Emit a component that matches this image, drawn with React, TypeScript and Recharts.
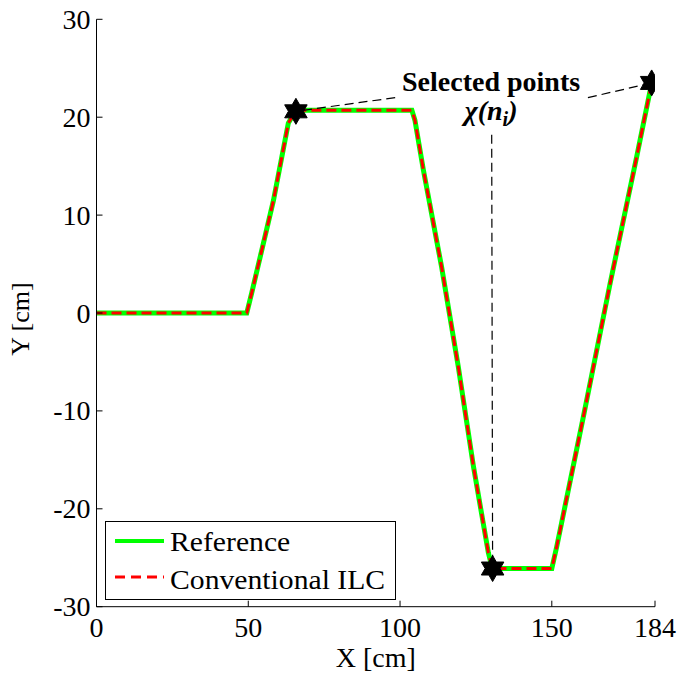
import React from 'react';
import {
  ComposedChart,
  Line,
  Scatter,
  XAxis,
  YAxis,
  ReferenceLine,
  ReferenceDot,
  Legend,
} from 'recharts';

const FONT = '"Liberation Serif", "Times New Roman", serif';

// tick labels
const xTicks = [0, 50, 100, 150, 184];
const yTicks = [-30, -20, -10, 0, 10, 20, 30];

// reference trajectory
const refX = [0, 49.5, 51.1, 55.5, 58.3, 63.2, 65.7, 103.9, 104.9, 107.7, 113.7, 119.2, 124.2, 129.1, 130.4, 150.0, 151.6, 160.4, 169.2, 178.0, 182.9];
const refY = [0, 0, 2.0, 7.8, 11.5, 19.4, 20.7, 20.7, 19.7, 14.6, 4.7, -5.5, -15.7, -24.5, -26.1, -26.1, -23.9, -10.6, 3.0, 16.0, 23.5];

// conventional ILC output (sits on top of the reference)
const ilcX = [0, 49.5, 51.1, 55.5, 58.3, 63.2, 65.7, 103.9, 104.9, 107.7, 113.7, 119.2, 124.2, 129.1, 130.4, 150.0, 151.6, 160.4, 169.2, 178.0, 182.9];
const ilcY = [0, 0, 2.0, 7.8, 11.5, 19.4, 20.7, 20.7, 19.7, 14.6, 4.7, -5.5, -15.7, -24.5, -26.1, -26.1, -23.9, -10.6, 3.0, 16.0, 23.5];

// selected points chi(n_i)
const selX = [65.7, 130.5, 182.9];
const selY = [20.6, -26.1, 23.5];

// where each leader line leaves the annotation text
const leadX = [98.4, 130.2, 161.9];
const leadY = [22.0, 18.2, 22.0];

// annotation anchor (text centre / baseline)
const noteX = 130;
const noteY = 22.7;

const refData = refX.map((x, i) => ({ x, y: refY[i] }));
const ilcData = ilcX.map((x, i) => ({ x, y: ilcY[i] }));
const selData = selX.map((x, i) => ({ x, y: selY[i] }));

const BottomTick = ({ x, y, payload }: any) => (
  <g>
    <line x1={x} x2={x} y1={y} y2={y - 6} stroke="#000" />
    <text x={x} y={y + 30} textAnchor="middle" fontFamily={FONT} fontSize={28} fill="#000">
      {payload.value}
    </text>
  </g>
);

const LeftTick = ({ x, y, payload }: any) => (
  <g>
    <line x1={x} x2={x + 6} y1={y} y2={y} stroke="#000" />
    <text x={x - 6} y={y + 9.5} textAnchor="end" fontFamily={FONT} fontSize={28} fill="#000">
      {payload.value}
    </text>
  </g>
);

const TopTick = ({ x, y }: any) => <line x1={x} x2={x} y1={y} y2={y + 6} stroke="#000" />;
const RightTick = ({ x, y }: any) => <line x1={x} x2={x - 6} y1={y} y2={y} stroke="#000" />;

const Hexagram = ({ cx, cy }: any) => {
  const R = 13;
  const r = R / Math.sqrt(3);
  const pts = [];
  for (let k = 0; k < 12; k++) {
    const a = -Math.PI / 2 + (k * Math.PI) / 6;
    const rad = k % 2 === 0 ? R : r;
    pts.push(`${cx + rad * Math.cos(a)},${cy + rad * Math.sin(a)}`);
  }
  return <polygon points={pts.join(' ')} fill="#000" stroke="#000" />;
};

const NoteLabel = ({ viewBox }: any) => {
  const { x, y } = viewBox;
  return (
    <g fontFamily={FONT} fontWeight="bold" fontSize={28} fill="#000" textAnchor="middle">
      <text x={x} y={y}>Selected points</text>
      <text x={x} y={y + 29} fontStyle="italic">
        χ(n<tspan dy={6} fontSize={20}>i</tspan>
        <tspan dy={-6}>)</tspan>
      </text>
    </g>
  );
};

const legendOrder = ['Reference', 'Conventional ILC'];
const legendLook: Record<string, { color: string; width: number; dash?: string }> = {
  Reference: { color: '#00ff00', width: 4 },
  'Conventional ILC': { color: '#ff0000', width: 3, dash: '10 6' },
};

const LegendBox = ({ payload }: any) => {
  const items = (payload || [])
    .filter((e: any) => legendLook[e.value])
    .sort((a: any, b: any) => legendOrder.indexOf(a.value) - legendOrder.indexOf(b.value));
  return (
    <svg width={291} height={79} style={{ display: 'block' }}>
      <rect x={0.5} y={0.5} width={290} height={78} fill="#fff" stroke="#000" />
      {items.map((e: any, i: number) => {
        const look = legendLook[e.value];
        const ty = 29.5 + i * 38;
        return (
          <g key={e.value}>
            <line
              x1={10}
              x2={59}
              y1={20 + i * 36}
              y2={20 + i * 36}
              stroke={look.color}
              strokeWidth={look.width}
              strokeDasharray={look.dash}
            />
            <text
              x={0}
              y={0}
              transform={`translate(65 ${ty}) scale(1.06 1)`}
              fontFamily={FONT}
              fontSize={28}
              fill="#000"
            >
              {e.value}
            </text>
          </g>
        );
      })}
    </svg>
  );
};

export default function App() {
  return (
    <div style={{ position: 'absolute', left: 0, top: 0, width: 679, height: 679, background: '#fff' }}>
      <ComposedChart width={679} height={679} margin={{ top: 19.3, right: 24, bottom: 32.3, left: 36.5 }}>
        <XAxis
          xAxisId={0}
          dataKey="x"
          type="number"
          domain={[0, 184]}
          ticks={xTicks}
          allowDataOverflow
          height={40}
          tickSize={0}
          tickMargin={0}
          tickLine={false}
          tick={<BottomTick />}
          interval={0}
          stroke="#000"
          label={({ viewBox }: any) => (
            <text
              x={viewBox.x + viewBox.width / 2}
              y={viewBox.y + 60}
              textAnchor="middle"
              fontFamily={FONT}
              fontSize={28}
              fill="#000"
            >
              X [cm]
            </text>
          )}
        />
        <XAxis
          xAxisId="top"
          orientation="top"
          type="number"
          domain={[0, 184]}
          ticks={xTicks}
          allowDataOverflow
          height={0}
          tickSize={0}
          tickMargin={0}
          tickLine={false}
          tick={<TopTick />}
          interval={0}
          stroke="#000"
        />
        <YAxis
          yAxisId={0}
          dataKey="y"
          type="number"
          domain={[-30, 30]}
          ticks={yTicks}
          allowDataOverflow
          width={60}
          tickSize={0}
          tickMargin={0}
          tickLine={false}
          tick={<LeftTick />}
          interval={0}
          stroke="#000"
          label={({ viewBox }: any) => {
            const cx = viewBox.x - 7.5;
            const cy = viewBox.y + viewBox.height / 2 + 6;
            return (
              <text
                x={cx}
                y={cy}
                transform={`rotate(-90 ${cx} ${cy})`}
                textAnchor="middle"
                fontFamily={FONT}
                fontSize={26}
                fill="#000"
              >
                Y [cm]
              </text>
            );
          }}
        />
        <YAxis
          yAxisId="right"
          orientation="right"
          type="number"
          domain={[-30, 30]}
          ticks={yTicks}
          allowDataOverflow
          width={0}
          tickSize={0}
          tickMargin={0}
          tickLine={false}
          tick={<RightTick />}
          interval={0}
          stroke="#000"
        />
        <Line
          data={refData}
          dataKey="y"
          name="Reference"
          stroke="#00ff00"
          strokeWidth={5}
          dot={false}
          activeDot={false}
          isAnimationActive={false}
        />
        <Line
          data={ilcData}
          dataKey="y"
          name="Conventional ILC"
          stroke="#ff0000"
          strokeWidth={3}
          strokeDasharray="10 5"
          dot={false}
          activeDot={false}
          isAnimationActive={false}
        />
        {selX.map((x, i) => (
          <ReferenceLine
            key={i}
            segment={[
              { x: leadX[i], y: leadY[i] },
              { x, y: selY[i] },
            ]}
            stroke="#000"
            strokeWidth={1.2}
            strokeDasharray="9 5"
          />
        ))}
        <ReferenceDot x={noteX} y={noteY} r={0} fill="none" stroke="none" label={(p: any) => <NoteLabel {...p} />} />
        <Scatter
          data={selData}
          dataKey="y"
          legendType="none"
          shape={<Hexagram />}
          isAnimationActive={false}
        />
        <Legend
          layout="horizontal"
          verticalAlign="middle"
          align="center"
          content={<LegendBox />}
          wrapperStyle={{ position: 'absolute', left: 105, top: 520.5, width: 291, height: 79 }}
        />
      </ComposedChart>
    </div>
  );
}
